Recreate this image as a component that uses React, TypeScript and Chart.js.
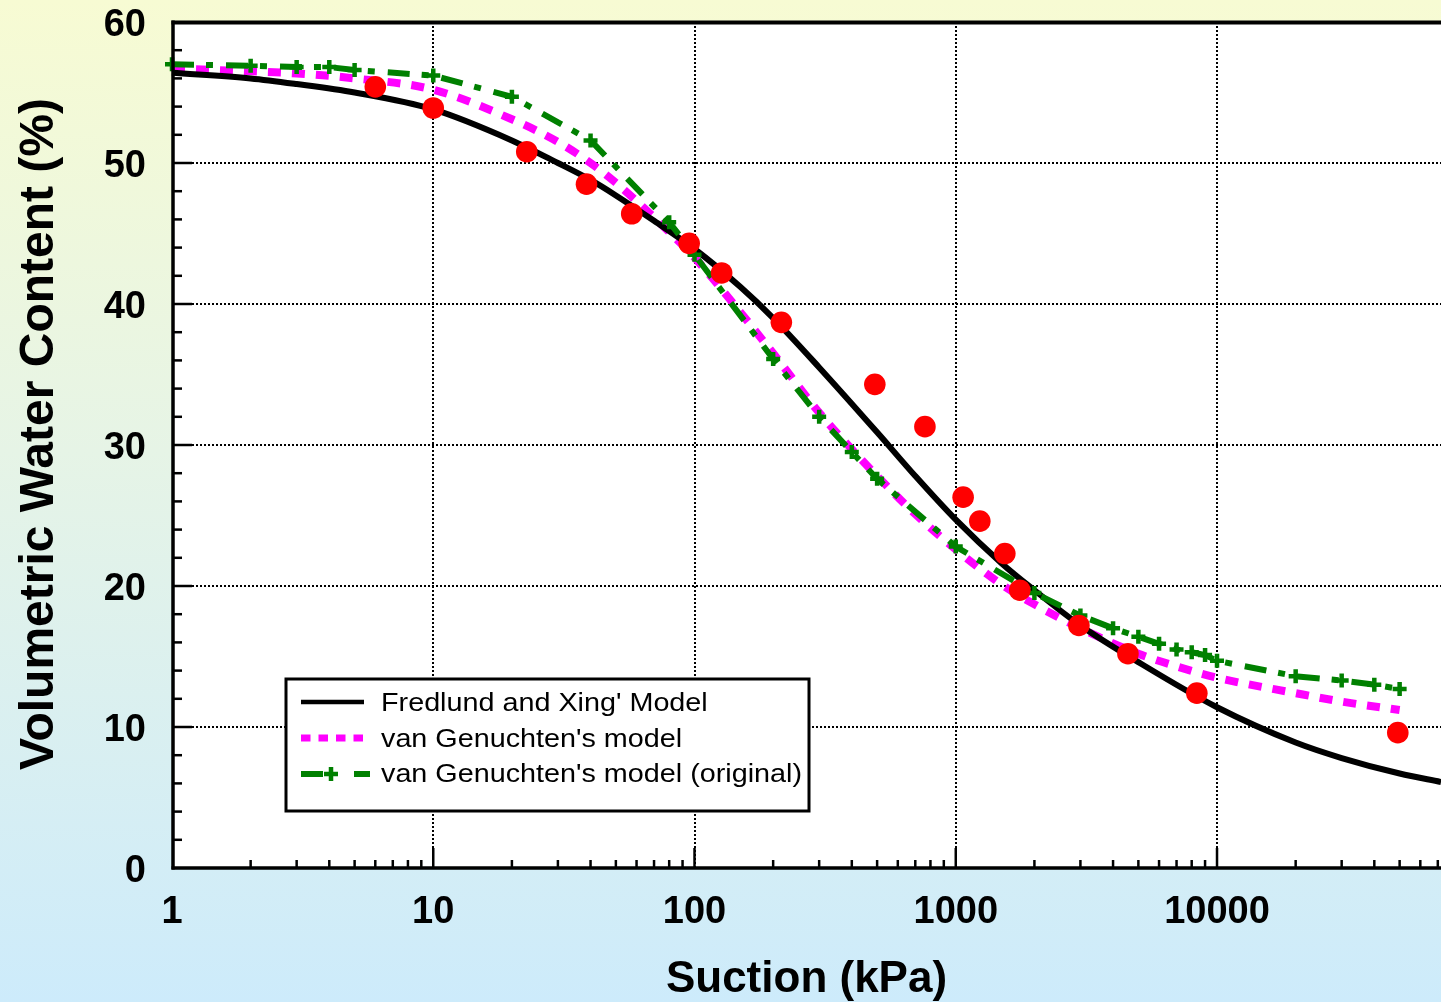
import React, { useEffect, useRef } from "react";
import { Chart, registerables } from "chart.js";

Chart.register(...registerables);

const FONT = '"Liberation Sans", Arial, Helvetica, sans-serif';
const W = 1441;
const H = 1002;

// Axis ranges and labelled ticks
const X_MIN = 1;
const X_MAX = 72000;
const Y_MIN = 0;
const Y_MAX = 60;
const xMajorTicks = [1, 10, 100, 1000, 10000];
const yStep = 10;
const yMinorStep = 2;

// Measured soil-water characteristic data (suction kPa / volumetric water content %)
const measuredSuction = [6, 10, 22.8, 38.6, 57.5, 95.4, 127, 215, 490, 762, 1067, 1236, 1541, 1758, 2960, 4560, 8370, 49200];
const measuredTheta = [55.4, 53.9, 50.8, 48.5, 46.4, 44.3, 42.2, 38.7, 34.3, 31.3, 26.3, 24.6, 22.3, 19.7, 17.2, 15.2, 12.4, 9.6];

// Fredlund and Xing fit
const fxSuction = [1, 2, 3, 5, 10, 20, 30, 40, 50, 70, 100, 150, 200, 300, 500, 700, 1000, 1500, 2000, 3000, 5000, 10000, 20000, 30000, 50000, 72000];
const fxTheta = [56.4, 56.0, 55.6, 55.0, 53.8, 51.6, 50.0, 48.8, 47.7, 45.9, 43.9, 41.2, 39.0, 35.5, 30.9, 27.8, 24.7, 21.6, 19.7, 17.2, 14.6, 11.4, 8.9, 7.8, 6.7, 6.1];

// van Genuchten fit
const vgSuction = [1, 2, 3, 5, 10, 20, 30, 40, 50, 60, 80, 100, 150, 200, 300, 400, 500, 700, 1000, 1500, 2000, 3000, 5000, 7000, 10000, 20000, 30000, 50000];
const vgTheta = [56.7, 56.5, 56.35, 56.0, 55.2, 53.1, 51.5, 50.0, 48.6, 47.3, 45.1, 43.3, 39.4, 36.5, 32.3, 29.7, 27.8, 25.1, 22.6, 20.1, 18.7, 17.0, 15.2, 14.3, 13.5, 12.4, 11.8, 11.2];

// van Genuchten fit (original parameters)
const vgoSuction = [1, 2, 3, 4, 5, 10, 20, 40, 80, 100, 200, 300, 400, 500, 1000, 2000, 3000, 4000, 5000, 6000, 7000, 8000, 9000, 10000, 20000, 30000, 40000, 50000];
const vgoTheta = [57.0, 56.9, 56.8, 56.8, 56.6, 56.2, 54.7, 51.6, 45.8, 43.5, 36.1, 32.0, 29.5, 27.6, 22.8, 19.5, 17.9, 17.0, 16.4, 15.9, 15.5, 15.3, 15.1, 14.7, 13.6, 13.3, 13.0, 12.7];

const legendLabels = [
  "Fredlund and Xing' Model",
  "van Genuchten's model",
  "van Genuchten's model (original)",
];

const xTitle = "Suction (kPa)";
const yTitle = "Volumetric Water Content (%)";

const BLACK = "#000000";
const MAGENTA = "#FF00FF";
const GREEN = "#008000";
const RED = "#FF0000";

const toPoints = (xs: number[], ys: number[]) => xs.map((x, i) => ({ x, y: ys[i] }));

const frameAndLabelsPlugin = {
  id: "frameAndLabels",
  beforeDraw(chart: any) {
    const { ctx, chartArea } = chart;
    ctx.save();
    const g = ctx.createLinearGradient(0, 0, 0, H);
    g.addColorStop(0, "#F7FBD3");
    g.addColorStop(0.45, "#E6F4E6");
    g.addColorStop(1, "#CDEBFB");
    ctx.fillStyle = g;
    ctx.fillRect(0, 0, W, H);
    ctx.fillStyle = "#FFFFFF";
    ctx.fillRect(chartArea.left, chartArea.top, chartArea.right - chartArea.left, chartArea.bottom - chartArea.top);
    ctx.restore();
  },
  beforeDatasetsDraw(chart: any) {
    const { ctx, chartArea, scales } = chart;
    const { left, right, top, bottom } = chartArea;
    ctx.save();
    ctx.strokeStyle = "#000";
    ctx.lineWidth = 2;
    ctx.setLineDash([2, 2]);
    for (let v = Y_MIN + yStep; v < Y_MAX; v += yStep) {
      const py = Math.round(scales.y.getPixelForValue(v));
      ctx.beginPath();
      ctx.moveTo(left, py);
      ctx.lineTo(right, py);
      ctx.stroke();
    }
    for (const v of xMajorTicks) {
      if (v <= X_MIN) continue;
      const px = Math.round(scales.x.getPixelForValue(v));
      ctx.beginPath();
      ctx.moveTo(px, top);
      ctx.lineTo(px, bottom);
      ctx.stroke();
    }
    ctx.restore();
  },
  afterDatasetsDraw(chart: any) {
    const { ctx, chartArea, scales } = chart;
    const { left, right, top, bottom } = chartArea;
    ctx.save();
    ctx.strokeStyle = "#000";
    ctx.setLineDash([]);
    ctx.lineCap = "butt";

    // inward tick marks on the y axis
    ctx.lineWidth = 2.5;
    for (let v = Y_MIN + yMinorStep; v < Y_MAX; v += yMinorStep) {
      const py = scales.y.getPixelForValue(v);
      const len = v % yStep === 0 ? 20 : 10;
      ctx.beginPath();
      ctx.moveTo(left, py);
      ctx.lineTo(left + len, py);
      ctx.stroke();
    }
    // inward tick marks on the log x axis
    for (const d of xMajorTicks) {
      for (let m = 1; m <= 9; m++) {
        const v = m * d;
        if (v <= X_MIN || v > X_MAX) continue;
        const px = scales.x.getPixelForValue(v);
        const len = m === 1 ? 20 : 8;
        ctx.beginPath();
        ctx.moveTo(px, bottom);
        ctx.lineTo(px, bottom - len);
        ctx.stroke();
      }
    }

    // frame
    ctx.lineWidth = 3.5;
    ctx.beginPath();
    ctx.moveTo(left + 1, top - 1.5);
    ctx.lineTo(left + 1, bottom + 1.5);
    ctx.stroke();
    ctx.beginPath();
    ctx.moveTo(left - 0.5, bottom);
    ctx.lineTo(right, bottom);
    ctx.stroke();
    ctx.lineWidth = 4;
    ctx.beginPath();
    ctx.moveTo(left - 0.5, top + 0.5);
    ctx.lineTo(right, top + 0.5);
    ctx.stroke();

    // tick labels
    ctx.fillStyle = "#000";
    ctx.font = `bold 38px ${FONT}`;
    ctx.textBaseline = "alphabetic";
    ctx.textAlign = "center";
    for (const v of xMajorTicks) {
      ctx.fillText(String(v), scales.x.getPixelForValue(v), 923);
    }
    ctx.textAlign = "right";
    for (let v = Y_MIN; v <= Y_MAX; v += yStep) {
      ctx.fillText(String(v), 146, scales.y.getPixelForValue(v) + 14);
    }

    // axis titles
    ctx.textAlign = "center";
    ctx.font = `bold 44px ${FONT}`;
    ctx.fillText(xTitle, (left + right) / 2, 992);
    ctx.save();
    ctx.translate(53, 434);
    ctx.rotate(-Math.PI / 2);
    ctx.font = `bold 48px ${FONT}`;
    ctx.fillText(yTitle, 0, 0);
    ctx.restore();

    // legend box
    const bx = 286, by = 679, bw = 523, bh = 132;
    ctx.fillStyle = "#FFFFFF";
    ctx.fillRect(bx, by, bw, bh);
    ctx.lineWidth = 3;
    ctx.strokeRect(bx, by, bw, bh);

    const rowY = [702, 738, 774];
    const textBase = [711, 746.5, 782];
    // Fredlund and Xing sample
    ctx.strokeStyle = BLACK;
    ctx.lineWidth = 4.5;
    ctx.beginPath();
    ctx.moveTo(301, rowY[0]);
    ctx.lineTo(364, rowY[0]);
    ctx.stroke();
    // van Genuchten sample
    ctx.strokeStyle = MAGENTA;
    ctx.lineWidth = 7;
    ctx.setLineDash([9.5, 8]);
    ctx.beginPath();
    ctx.moveTo(301, rowY[1]);
    ctx.lineTo(366, rowY[1]);
    ctx.stroke();
    ctx.setLineDash([]);
    // van Genuchten (original) sample
    ctx.strokeStyle = GREEN;
    ctx.lineWidth = 6;
    ctx.beginPath();
    ctx.moveTo(301, rowY[2]);
    ctx.lineTo(323, rowY[2]);
    ctx.moveTo(354, rowY[2]);
    ctx.lineTo(370, rowY[2]);
    ctx.stroke();
    ctx.lineWidth = 4.5;
    ctx.beginPath();
    ctx.moveTo(324, rowY[2]);
    ctx.lineTo(338, rowY[2]);
    ctx.moveTo(331, rowY[2] - 7);
    ctx.lineTo(331, rowY[2] + 7);
    ctx.stroke();

    ctx.fillStyle = "#000";
    ctx.textAlign = "left";
    ctx.font = `25px ${FONT}`;
    legendLabels.forEach((label, i) => {
      ctx.save();
      ctx.translate(381, textBase[i]);
      ctx.scale(1.15, 1);
      ctx.fillText(label, 0, 0);
      ctx.restore();
    });

    ctx.restore();
  },
};

export default function App() {
  const canvasRef = useRef<HTMLCanvasElement>(null);

  useEffect(() => {
    const canvas = canvasRef.current;
    if (!canvas) return;
    const chart = new Chart(canvas, {
      type: "line",
      data: {
        datasets: [
          {
            label: "Measured",
            data: toPoints(measuredSuction, measuredTheta),
            showLine: false,
            pointStyle: "circle",
            pointRadius: 10.8,
            pointBackgroundColor: RED,
            pointBorderWidth: 0,
            borderColor: RED,
            backgroundColor: RED,
            order: 0,
            clip: false,
          },
          {
            label: legendLabels[2],
            data: toPoints(vgoSuction, vgoTheta),
            borderColor: GREEN,
            borderWidth: 6,
            borderDash: [22, 12, 7, 13],
            tension: 0,
            pointStyle: "cross",
            pointRadius: 7,
            pointBorderWidth: 4.5,
            pointBorderColor: GREEN,
            pointBackgroundColor: GREEN,
            order: 1,
            clip: false,
          },
          {
            label: legendLabels[0],
            data: toPoints(fxSuction, fxTheta),
            borderColor: BLACK,
            borderWidth: 6,
            cubicInterpolationMode: "monotone",
            pointRadius: 0,
            order: 2,
            clip: false,
          },
          {
            label: legendLabels[1],
            data: toPoints(vgSuction, vgTheta),
            borderColor: MAGENTA,
            borderWidth: 8,
            borderDash: [13, 11],
            cubicInterpolationMode: "monotone",
            pointRadius: 0,
            order: 3,
            clip: false,
          },
        ],
      },
      options: {
        responsive: false,
        animation: false,
        devicePixelRatio: 1,
        layout: { autoPadding: false, padding: { top: 22, left: 0, right: 0, bottom: 0 } },
        plugins: {
          legend: { display: false },
          tooltip: { enabled: false },
          title: { display: false },
        },
        scales: {
          x: {
            type: "logarithmic",
            min: X_MIN,
            max: X_MAX,
            grid: { display: false, drawTicks: false },
            border: { display: false },
            ticks: { display: false },
            afterFit: (scale: any) => {
              scale.height = H - 868;
            },
          },
          y: {
            type: "linear",
            min: Y_MIN,
            max: Y_MAX,
            grid: { display: false, drawTicks: false },
            border: { display: false },
            ticks: { display: false, stepSize: yStep },
            afterFit: (scale: any) => {
              scale.width = 172;
            },
          },
        },
      },
      plugins: [frameAndLabelsPlugin],
    } as any);
    return () => chart.destroy();
  }, []);

  return (
    <div style={{ position: "fixed", left: 0, top: 0, width: W, height: H, overflow: "hidden" }}>
      <canvas ref={canvasRef} width={W} height={H} style={{ display: "block", width: W, height: H }} />
    </div>
  );
}
